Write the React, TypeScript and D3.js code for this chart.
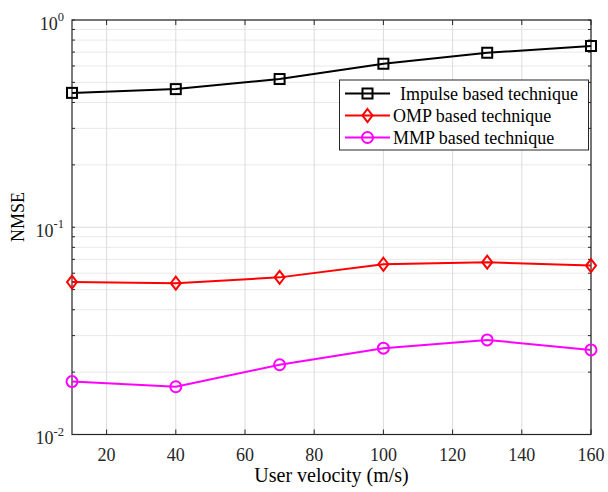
import React from "react";
import * as d3 from "d3";

const velocities = [10, 40, 70, 100, 130, 160];
const impulseNMSE = [0.445, 0.464, 0.519, 0.615, 0.695, 0.749];
const ompNMSE = [0.0544, 0.0537, 0.0573, 0.0663, 0.0678, 0.0653];
const mmpNMSE = [0.018, 0.017, 0.0217, 0.0261, 0.0286, 0.0256];
const xTicks = [20, 40, 60, 80, 100, 120, 140, 160];
const yDecades = [-2, -1, 0];
const seriesNames = ["Impulse based technique", "OMP based technique", "MMP based technique"];

const W = 608, H = 492;
const M = { left: 72, right: 591, top: 20, bottom: 434.5 };
const FONT = "'Liberation Serif', 'Times New Roman', serif";

export default function App() {
  const x = d3.scaleLinear().domain([10, 160]).range([M.left, M.right]);
  const y = d3.scaleLog().domain([0.01, 1]).range([M.bottom, M.top]);
  const line = d3.line<[number, number]>().x(d => x(d[0])).y(d => y(d[1]));

  const minor: number[] = [];
  for (let e = -2; e < 0; e++) for (let k = 2; k <= 9; k++) minor.push(k * Math.pow(10, e));

  const series = [
    { name: seriesNames[0], vals: impulseNMSE, color: "#000000", marker: "square" },
    { name: seriesNames[1], vals: ompNMSE, color: "#ff0000", marker: "diamond" },
    { name: seriesNames[2], vals: mmpNMSE, color: "#ff00ff", marker: "circle" },
  ];

  const marker = (type: string, cx: number, cy: number, color: string, key: any) => {
    if (type === "square")
      return <rect key={key} x={cx - 5} y={cy - 5} width={10} height={10} fill="none" stroke={color} strokeWidth={2} />;
    if (type === "diamond")
      return <path key={key} d={`M${cx},${cy - 6.5}L${cx + 5},${cy}L${cx},${cy + 6.5}L${cx - 5},${cy}Z`} fill="none" stroke={color} strokeWidth={2} />;
    return <circle key={key} cx={cx} cy={cy} r={5.5} fill="none" stroke={color} strokeWidth={2} />;
  };

  const lg = { x: 339.5, y: 80, w: 249, h: 70 };
  const rowY = [93.5, 115.5, 137.5];

  return (
    <svg width={W} height={H} style={{ position: "absolute", left: 0, top: 0, background: "#fff" }} fontFamily={FONT}>
      <rect x={0} y={0} width={W} height={H} fill="#fff" />
      {/* minor grid */}
      {minor.map((v, i) => (
        <line key={"mg" + i} x1={M.left} x2={M.right} y1={y(v)} y2={y(v)} stroke="#e9e9e9" strokeWidth={1} />
      ))}
      {yDecades.map(e => (
        <line key={"yg" + e} x1={M.left} x2={M.right} y1={y(Math.pow(10, e))} y2={y(Math.pow(10, e))} stroke="#dcdcdc" strokeWidth={1} />
      ))}
      {xTicks.map(t => (
        <line key={"xg" + t} x1={x(t)} x2={x(t)} y1={M.top} y2={M.bottom} stroke="#dcdcdc" strokeWidth={1} />
      ))}
      {/* ticks */}
      {xTicks.map(t => (
        <g key={"xt" + t}>
          <line x1={x(t)} x2={x(t)} y1={M.bottom} y2={M.bottom - 5} stroke="#262626" />
          <line x1={x(t)} x2={x(t)} y1={M.top} y2={M.top + 5} stroke="#262626" />
          <text x={x(t)} y={461} textAnchor="middle" fontSize={18} fill="#262626">{t}</text>
        </g>
      ))}
      {minor.concat(yDecades.map(e => Math.pow(10, e))).map((v, i) => (
        <g key={"yt" + i}>
          <line x1={M.left} x2={M.left + 3} y1={y(v)} y2={y(v)} stroke="#262626" />
          <line x1={M.right} x2={M.right - 3} y1={y(v)} y2={y(v)} stroke="#262626" />
        </g>
      ))}
      {yDecades.map(e => (
        <text key={"yl" + e} x={64} y={y(Math.pow(10, e)) + 9.5} textAnchor="end" fontSize={18} fill="#262626">
          10<tspan dy={-8.5} fontSize={12.5}>{e}</tspan>
        </text>
      ))}
      {/* box */}
      <rect x={M.left} y={M.top} width={M.right - M.left} height={M.bottom - M.top} fill="none" stroke="#262626" strokeWidth={1.2} />
      {/* series */}
      {series.map((s, si) => (
        <g key={"s" + si}>
          <path d={line(velocities.map((v, i) => [v, s.vals[i]]) as [number, number][]) || ""} fill="none" stroke={s.color} strokeWidth={2} />
          {velocities.map((v, i) => marker(s.marker, x(v), y(s.vals[i]), s.color, "m" + si + i))}
        </g>
      ))}
      {/* legend */}
      <rect x={lg.x} y={lg.y} width={lg.w} height={lg.h} fill="#fff" stroke="#262626" strokeWidth={1} />
      {series.map((s, i) => (
        <g key={"lg" + i}>
          <line x1={345} x2={390} y1={rowY[i]} y2={rowY[i]} stroke={s.color} strokeWidth={2} />
          {marker(s.marker, 367.5, rowY[i], s.color, "lm" + i)}
          <text x={i === 0 ? 400 : 393} y={rowY[i] + 6} fontSize={18} fill="#000">{s.name}</text>
        </g>
      ))}
      {/* axis labels */}
      <text x={(M.left + M.right) / 2} y={482} textAnchor="middle" fontSize={20} fill="#000">User velocity (m/s)</text>
      <text transform={`translate(24, 217) rotate(-90)`} textAnchor="middle" fontSize={18} fill="#000">NMSE</text>
    </svg>
  );
}
